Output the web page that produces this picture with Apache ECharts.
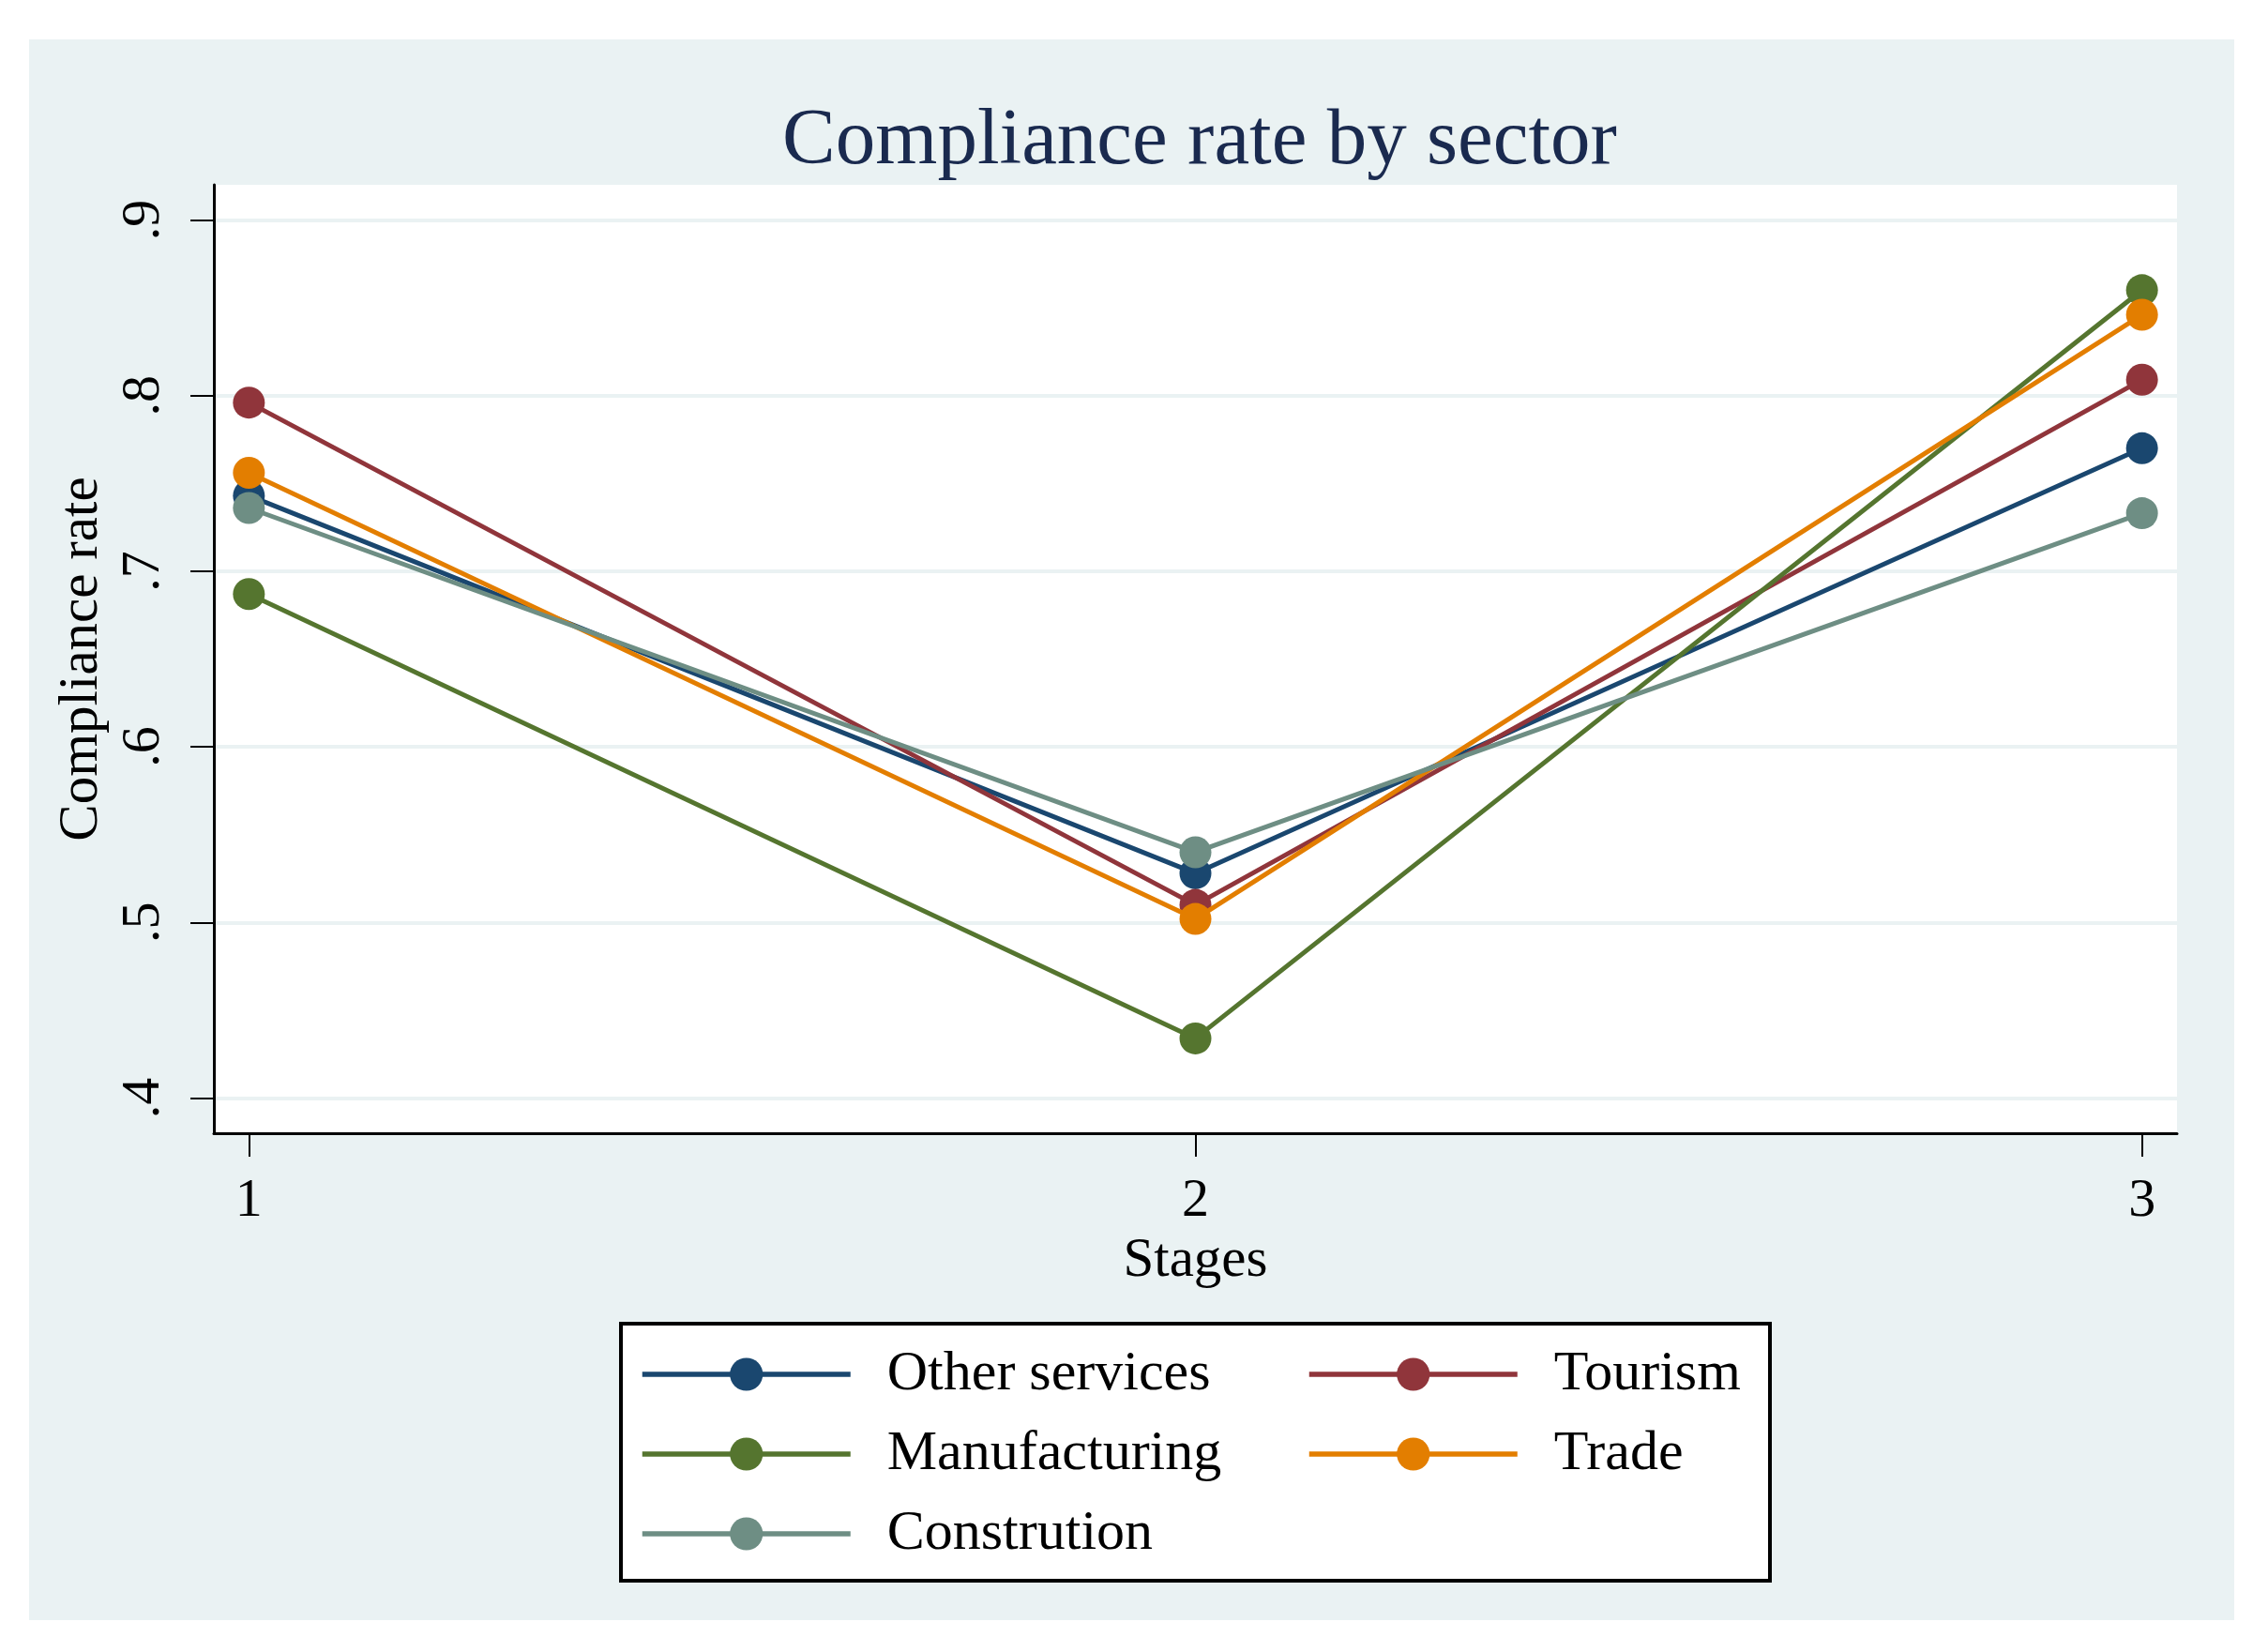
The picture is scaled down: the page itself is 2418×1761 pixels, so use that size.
<!DOCTYPE html>
<html><head><meta charset="utf-8">
<script src="https://cdn.jsdelivr.net/npm/echarts@6/dist/echarts.min.js"></script>
<style>
html,body{margin:0;padding:0;background:#fff;}
#bg{position:absolute;left:31px;top:42px;width:2351px;height:1685px;background:#EAF2F3;}
#lg{position:absolute;left:660px;top:1409px;width:1221px;height:270px;background:#fff;border:4px solid #000;}
#chart{position:absolute;left:0;top:0;width:2418px;height:1761px;}
</style></head>
<body>
<div id="bg"></div>
<div id="lg"></div>
<div id="chart"></div>
<script>
const stages = [1, 2, 3];
const yTicks = [0.4, 0.5, 0.6, 0.7, 0.8, 0.9];
const seriesNames = ['Other services', 'Tourism', 'Manufacturing', 'Trade', 'Constrution'];
const otherServices = [0.743, 0.528, 0.770];
const tourism = [0.796, 0.510, 0.809];
const manufacturing = [0.687, 0.434, 0.860];
const trade = [0.756, 0.502, 0.846];
const construction = [0.736, 0.540, 0.733];
const colors = ['#1a476f', '#90353b', '#55752f', '#e37e00', '#6e8e84'];

const values = [otherServices, tourism, manufacturing, trade, construction];
const font = 'Liberation Serif';

const chart = echarts.init(document.getElementById('chart'), null, {renderer: 'canvas'});
const series = seriesNames.map((name, i) => ({
  name: name,
  type: 'line',
  data: stages.map((s, j) => [s, values[i][j]]),
  symbol: 'circle',
  symbolSize: 34,
  showSymbol: true,
  lineStyle: {color: colors[i], width: 5},
  itemStyle: {color: colors[i]},
  z: 2 + i,
  animation: false
}));

const legendCommon = {
  orient: 'vertical',
  itemWidth: 222,
  itemHeight: 44,
  itemGap: 25,
  textStyle: {fontFamily: font, fontSize: 60, color: '#000', lineHeight: 60, padding: [0, 0, 0, 34]},
  lineStyle: {width: 5.5}
};

chart.setOption({
  backgroundColor: 'transparent',
  color: colors,
  animation: false,
  title: {
    text: 'Compliance rate by sector',
    left: 1274,
    top: 104,
    textAlign: 'center',
    textStyle: {fontFamily: font, fontSize: 85, fontWeight: 'normal', color: '#1a2a4f'}
  },
  legend: [
    Object.assign({}, legendCommon, {left: 677, top: 1430, data: ['Other services', 'Manufacturing', 'Constrution']}),
    Object.assign({}, legendCommon, {left: 1388, top: 1430, data: ['Tourism', 'Trade']})
  ],
  grid: {
    left: 228, right: 97, top: 197, bottom: 553,
    show: true, backgroundColor: '#fff', borderWidth: 0
  },
  xAxis: {
    type: 'value',
    min: 0.963,
    max: 3.037,
    name: 'Stages',
    nameLocation: 'middle',
    nameGap: 105,
    nameTextStyle: {fontFamily: font, fontSize: 59, color: '#000'},
    axisLine: {show: true, onZero: false, lineStyle: {color: '#000', width: 3}},
    axisTick: {show: true, length: 25, customValues: stages, lineStyle: {color: '#000', width: 2}},
    axisLabel: {customValues: stages, margin: 44, fontFamily: font, fontSize: 58, color: '#000'},
    splitLine: {show: false}
  },
  yAxis: {
    type: 'value',
    min: 0.38,
    max: 0.92,
    name: 'Compliance rate',
    nameLocation: 'middle',
    nameGap: 98,
    nameTextStyle: {fontFamily: font, fontSize: 59, color: '#000'},
    axisLine: {show: true, onZero: false, lineStyle: {color: '#000', width: 3}},
    axisTick: {show: true, length: 25, customValues: yTicks, lineStyle: {color: '#000', width: 2}},
    axisLabel: {
      customValues: yTicks, rotate: 90, margin: 45,
      fontFamily: font, fontSize: 58, color: '#000',
      formatter: v => v.toFixed(1).replace(/^0/, '')
    },
    splitLine: {show: true, lineStyle: {color: '#EAF2F3', width: 4}}
  },
  series: series
});
</script>
</body></html>
